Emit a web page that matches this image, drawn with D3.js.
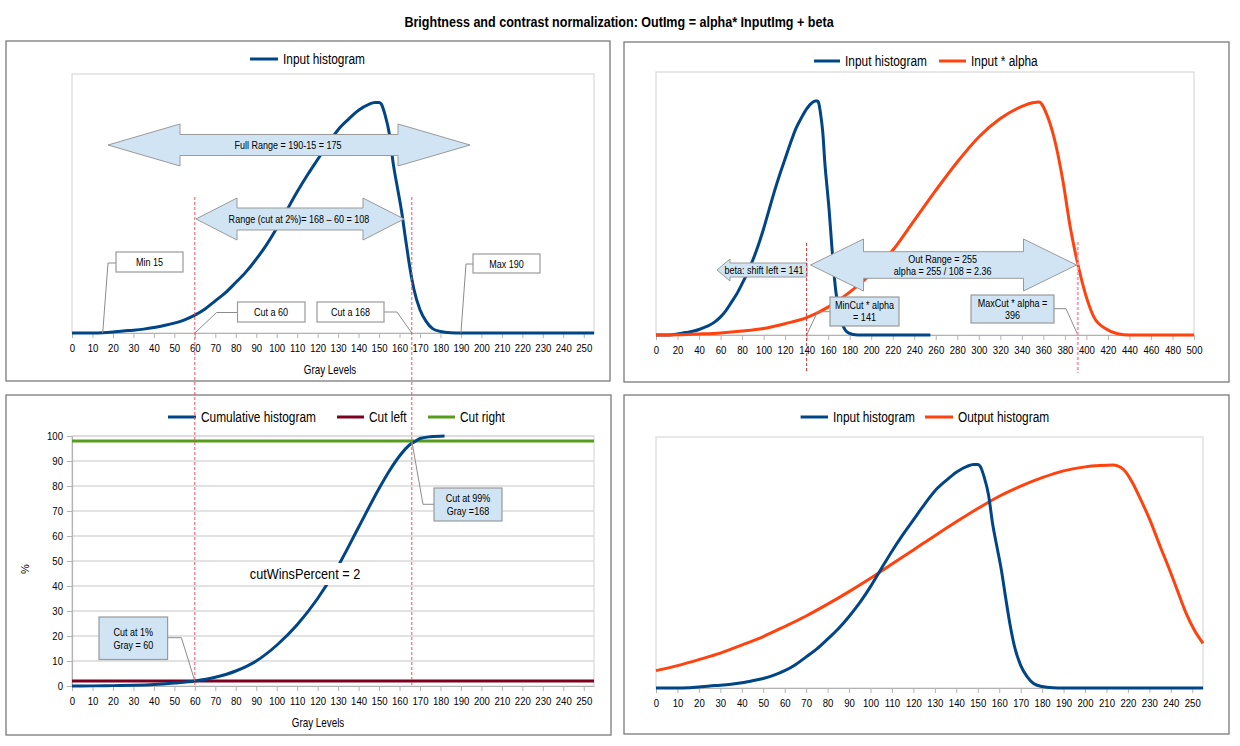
<!DOCTYPE html>
<html><head><meta charset="utf-8">
<script src="https://cdn.jsdelivr.net/npm/d3@7"></script>
<style>
body{margin:0;background:#fff;}
svg text{font-family:"Liberation Sans",Arial,sans-serif;}
</style></head><body>
<svg id="c" width="1240" height="746"></svg>
<script>
// ---------------- DATA ----------------
const titleText = "Brightness and contrast normalization: OutImg = alpha* InputImg + beta";
// input histogram (gray level -> relative count)
const histX = [0,5,10,15,20,25,30,35,40,45,50,55,60,65,70,75,80,85,90,95,100,105,110,115,120,125,130,135,140,145,148,150,151,153,155,157,159,161,163,165,167,170,173,176,180,185,190,200,210,220,230,240,250,255];
const histY = [0,0,0,0.1,0.4,0.8,1.1,1.5,2.1,2.9,3.8,5.1,6.9,9.3,12.4,15.6,19.5,23.6,28.5,34,40.4,47.5,54.5,61,67,73,78.5,82.5,86,88.3,89,89,88.5,84,77,65,56,47,36,25.5,17,9,4.5,1.8,0.6,0.1,0,0,0,0,0,0,0,0];
// input * alpha (stretched)
const scaledX = [0,20,40,60,80,100,120,140,160,180,200,220,240,260,280,300,320,340,350,356,363,370,378,385,392,400,407,418,429,440,460,480,500];
const scaledY = [0,0.1,0.4,0.8,1.5,2.5,4.3,6.6,10.6,16.3,23.3,32.2,43.6,55,65.8,75.3,82.3,86.9,88.3,88.6,84,75,59,41,27,14.4,6.8,2.4,0.5,0,0,0,0];
// cumulative histogram (%)
const cumX = [0,10,20,30,40,50,60,70,80,90,100,110,120,130,140,150,155,160,165,168,170,175,182];
const cumY = [0,0.05,0.15,0.3,0.6,1.2,2,3.5,6,10,16.3,24.5,35,48,63.5,79,86,92,96.5,98,99,99.7,100];
const cutLeftValue = 2, cutRightValue = 98;
// output histogram
const outX = [0,10,20,30,40,50,60,70,80,90,100,110,120,130,140,150,160,170,180,190,200,207,213,218,222,226,230,235,239,243,247,251,255];
const outY = [6.9,8.9,11.3,13.9,17.1,20.5,24.5,28.7,33.4,38.4,43.7,49.4,55,60.7,66.2,71.5,76.4,80.4,83.8,86.5,88.1,88.6,88.8,87,82,75,67.5,56.5,48,39,30,23,17.8];
// markers
const minGray = 15, maxGray = 190, cutLow = 60, cutHighPos = 166;
const minCutAlpha = 140, maxCutAlpha = 392;
const ticks256 = d3.range(0, 251, 10);
const ticks500 = d3.range(0, 501, 20);
const ticksPct = d3.range(0, 101, 10);

// ---------------- STYLE ----------------
const BLUE="#004586", ORANGE="#ff420e", DRED="#7e0021", GREEN="#579d1c";
const AFILL="#d0e4f3", ASTROKE="#9a9a9a", LEAD="#8c8c8c";
const SX = 0.82; // horizontal condensation to mimic a narrow font
const svg = d3.select("#c");

function txt(x,y,s,size,anchor,weight){
  return svg.append("text").attr("transform",`translate(${x},${y}) scale(${SX},1)`)
    .attr("text-anchor",anchor||"middle").attr("font-weight",weight||null)
    .attr("font-size",size||11).attr("fill","#000").text(s);
}
txt(619,27,titleText,15.3,"middle","bold");

function panel(x0,y0,x1,y1){
  svg.append("rect").attr("x",x0).attr("y",y0).attr("width",x1-x0).attr("height",y1-y0)
    .attr("fill","#fff").attr("stroke","#7a7a7a").attr("stroke-width",1.3);
}
function frame(x,y){
  const [a,b]=x.range(), [c,d]=y.range();
  svg.append("rect").attr("x",a).attr("y",d).attr("width",b-a).attr("height",c-d)
    .attr("fill","none").attr("stroke","#d9d9d9").attr("stroke-width",1.2);
}
function xAxis(x,y0,ticks){
  const g = svg.append("g").attr("transform",`translate(0,${y0})`)
    .call(d3.axisBottom(x).tickValues(ticks).tickSize(5).tickSizeOuter(0).tickPadding(6));
  g.attr("font-family",null);
  g.select(".domain").attr("stroke","#b3b3b3").attr("stroke-width",1.2);
  g.selectAll(".tick line").attr("stroke","#b3b3b3");
  g.selectAll(".tick text").attr("font-size",11.7).attr("fill","#000").attr("transform",`scale(${SX},1)`);
}
function line(xs,ys,x,y,color,w){
  const pts = xs.map((v,i)=>[v,ys[i]]);
  svg.append("path").datum(pts).attr("fill","none").attr("stroke",color).attr("stroke-width",w||3)
    .attr("stroke-linejoin","round")
    .attr("d", d3.line().x(d=>x(d[0])).y(d=>y(d[1])).curve(d3.curveMonotoneX));
}
function legend(items,y){
  items.forEach(it=>{
    svg.append("line").attr("x1",it.a).attr("x2",it.b).attr("y1",y).attr("y2",y)
      .attr("stroke",it.c).attr("stroke-width",3);
    txt(it.b+5,y+5,it.t,14.5,"start");
  });
}
function dblArrow(xl,xr,yc,hl,hh,sh){
  const p=[[xl,yc],[xl+hl,yc-hh],[xl+hl,yc-sh],[xr-hl,yc-sh],[xr-hl,yc-hh],[xr,yc],
           [xr-hl,yc+hh],[xr-hl,yc+sh],[xl+hl,yc+sh],[xl+hl,yc+hh]];
  svg.append("path").attr("d","M"+p.join("L")+"Z").attr("fill",AFILL).attr("stroke",ASTROKE).attr("stroke-width",1);
}
function leftArrow(xl,xr,yc,hl,hh,sh){
  const p=[[xl,yc],[xl+hl,yc-hh],[xl+hl,yc-sh],[xr,yc-sh],[xr,yc+sh],[xl+hl,yc+sh],[xl+hl,yc+hh]];
  svg.append("path").attr("d","M"+p.join("L")+"Z").attr("fill",AFILL).attr("stroke",ASTROKE).attr("stroke-width",1);
}
function box(x,y,w,h,fill){
  svg.append("rect").attr("x",x).attr("y",y).attr("width",w).attr("height",h)
    .attr("fill",fill).attr("stroke","#9a9a9a").attr("stroke-width",1.2);
}
function leader(pts){
  svg.append("path").attr("d","M"+pts.join("L")).attr("fill","none").attr("stroke",LEAD).attr("stroke-width",1);
}

// ---------------- PANEL 1 ----------------
panel(6,41,610,381);
const x1 = d3.scaleLinear().domain([0,255]).range([72,594]);
const y1 = d3.scaleLinear().domain([0,100]).range([333,74]);
frame(x1,y1);
xAxis(x1,333,ticks256);
txt(330,374,"Gray Levels",12);
legend([{a:250,b:278,c:BLUE,t:"Input histogram"}],59);
line(histX,histY,x1,y1,BLUE,3);
dblArrow(108,470,145,72,21,10.5);
txt(288,149,"Full Range = 190-15 = 175",11);
dblArrow(196,404,219,41,21,11);
txt(299,223,"Range (cut at 2%)= 168 \u2013 60 = 108",11);
leader([[x1(minGray),333],[108,263],[116,263]]);
box(116,252,67,20,"#fff"); txt(149.5,266,"Min 15",11);
leader([[x1(maxGray),333],[466,264],[473,264]]);
box(473,254,67,19,"#fff"); txt(506.5,268,"Max 190",11);
leader([[x1(cutLow),333],[216.6,312.5],[237.5,312.5]]);
box(237.5,302,67.5,20,"#fff"); txt(271,316,"Cut a 60",11);
leader([[384,312],[397,312],[x1(cutHighPos),333]]);
box(317,302,67,20,"#fff"); txt(350.5,316,"Cut a 168",11);

// ---------------- PANEL 2 ----------------
panel(624,42,1229,382);
const x2 = d3.scaleLinear().domain([0,500]).range([656,1194]);
const y2 = d3.scaleLinear().domain([0,100]).range([335,72]);
frame(x2,y2);
xAxis(x2,335,ticks500);
legend([{a:814,b:840,c:BLUE,t:"Input histogram"},{a:939,b:966,c:ORANGE,t:"Input * alpha"}],61);
line(histX,histY,x2,y2,BLUE,3);
line(scaledX,scaledY,x2,y2,ORANGE,3);
dblArrow(810.5,1076.5,265,53,26,13.3);
txt(942.7,263,"Out Range = 255",11);
txt(942.7,275,"alpha = 255 / 108 = 2.36",11);
leftArrow(717,807,270,13,11,7);
txt(764,274,"beta: shift left = 141",11);
leader([[x2(minCutAlpha),335],[817.6,311.7],[830,311.7]]);
box(830,297,69,29,AFILL);
txt(864.5,309,"MinCut * alpha",11); txt(864.5,321,"= 141",11);
leader([[1054,308.7],[1066,308.7],[x2(maxCutAlpha),335]]);
box(971,295,83,28,AFILL);
txt(1012.5,307,"MaxCut * alpha =",11); txt(1012.5,319,"396",11);

// ---------------- PANEL 3 ----------------
panel(6,395,611,735);
const x3 = d3.scaleLinear().domain([0,255]).range([72,594]);
const y3 = d3.scaleLinear().domain([0,100]).range([686,436]);
ticksPct.filter(v=>v>0).forEach(v=>{
  svg.append("line").attr("x1",72).attr("x2",594).attr("y1",y3(v)).attr("y2",y3(v))
    .attr("stroke","#d9d9d9").attr("stroke-width",1.5);
});
frame(x3,y3);
xAxis(x3,686,ticks256);
{
  const g = svg.append("g").attr("transform","translate(72,0)")
    .call(d3.axisLeft(y3).tickValues(ticksPct).tickSize(5).tickSizeOuter(0).tickPadding(4));
  g.attr("font-family",null);
  g.select(".domain").attr("stroke","#b3b3b3").attr("stroke-width",1.2);
  g.selectAll(".tick line").attr("stroke","#b3b3b3");
  g.selectAll(".tick text").attr("font-size",11.7).attr("fill","#000")
    .attr("x",-9/SX).attr("transform",`scale(${SX},1)`);
}
txt(318,727,"Gray Levels",12);
svg.append("text").attr("transform","translate(29,569) rotate(-90)").attr("text-anchor","middle")
  .attr("font-size",11).text("%");
legend([{a:168,b:196,c:BLUE,t:"Cumulative histogram"},{a:337,b:364,c:DRED,t:"Cut left"},{a:428,b:455,c:GREEN,t:"Cut right"}],417);
line([0,255],[cutLeftValue,cutLeftValue],x3,y3,DRED,3);
line([0,255],[cutRightValue,cutRightValue],x3,y3,GREEN,3);
line(cumX,cumY,x3,y3,BLUE,3);
svg.append("rect").attr("x",246).attr("y",563).attr("width",118).attr("height",22).attr("fill","#fff");
txt(305,579,"cutWinsPercent = 2",15.5);
leader([[x3(cutHighPos),y3(cutRightValue)],[423,504.3],[434,504.3]]);
box(434,488,68,33,AFILL);
txt(468,502,"Cut at 99%",11); txt(468,515,"Gray =168",11);
leader([[167.6,637.7],[181.4,637.7],[x3(cutLow),y3(cutLeftValue)]]);
box(99,617,68.6,42.5,AFILL);
txt(133.3,636,"Cut at 1%",11); txt(133.3,649,"Gray = 60",11);

// ---------------- PANEL 4 ----------------
panel(624,395,1229,734);
const x4 = d3.scaleLinear().domain([0,255]).range([656,1203]);
const y4 = d3.scaleLinear().domain([0,100]).range([688,437]);
frame(x4,y4);
xAxis(x4,688,ticks256);
legend([{a:800.6,b:828,c:BLUE,t:"Input histogram"},{a:925,b:953,c:ORANGE,t:"Output histogram"}],417);
line(outX,outY,x4,y4,ORANGE,3);
line(histX,histY,x4,y4,BLUE,3);

// ---------------- OVERLAY DASHED MARKERS ----------------
[x1(cutLow), x1(cutHighPos)].forEach(xx=>{
  svg.append("line").attr("x1",xx).attr("x2",xx).attr("y1",197).attr("y2",y3(0))
    .attr("stroke","#f0505a").attr("stroke-width",1).attr("stroke-dasharray","3,2");
});
svg.append("line").attr("x1",x2(minCutAlpha)).attr("x2",x2(minCutAlpha)).attr("y1",243).attr("y2",373)
  .attr("stroke","#d22a2a").attr("stroke-width",1).attr("stroke-dasharray","3,2");
svg.append("line").attr("x1",x2(maxCutAlpha)).attr("x2",x2(maxCutAlpha)).attr("y1",242).attr("y2",373)
  .attr("stroke","#f7a0b4").attr("stroke-width",2).attr("stroke-dasharray","3,2");
</script></body></html>
